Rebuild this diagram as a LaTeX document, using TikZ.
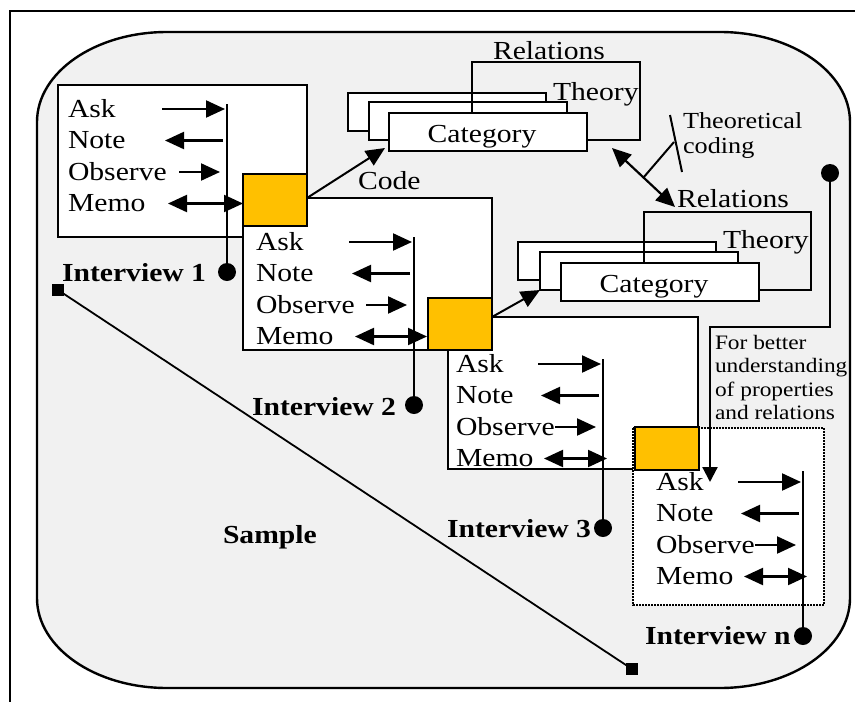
\documentclass[tikz,border=0pt]{standalone}
\usepackage{fontspec}
\setmainfont{Liberation Serif}[FakeStretch=1.14]
\usetikzlibrary{arrows.meta,calc}
\definecolor{panelgray}{HTML}{F1F1F1}
\definecolor{gold}{HTML}{FFC000}

% One interview panel: four activities, their arrows, the stem and its end dot.
% #1 name, #2 text x, #3 first baseline, #4 stem x, #5 memo tip x, #6 stem top, #7 dot y
\newcommand{\ivpanel}[7]{%
  \foreach \w [count=\i] in {Ask,Note,Observe,Memo}
    \node[word] (#1-w\i) at (#2,{#3+(\i-1)*31.5}) {\w};
  \coordinate (#1-a0) at ({#4-65},{#3-8});
  \coordinate (#1-a1) at ({#4-2},{#3-8});
  \coordinate (#1-n0) at ({#4-4},{#3+23.5});
  \coordinate (#1-n1) at ({#4-62},{#3+23.5});
  \coordinate (#1-o0) at ({#4-48},{#3+55});
  \coordinate (#1-o1) at ({#4-7},{#3+55});
  \coordinate (#1-m0) at ({#4-59},{#3+86.5});
  \coordinate (#1-m1) at (#5,{#3+86.5});
  \coordinate (#1-top) at (#4,#6);
  \node[dot] (#1-dot) at (#4,#7) {};
  \draw[stroke] (#1-top) -- (#1-dot.center);
  \draw[stroke,tip] (#1-a0) -- (#1-a1);
  \draw[stroke,tip] (#1-n0) -- (#1-n1);
  \draw[stroke,tip] (#1-o0) -- (#1-o1);
  \draw[stroke,twotip] (#1-m0) -- (#1-m1);
}

\begin{document}
\begin{tikzpicture}[x=1pt,y=-1pt,
  every node/.style={inner sep=0pt, outer sep=0pt},
  tip/.style={-{Triangle[length=19pt,width=17pt]}},
  twotip/.style={{Triangle[length=19pt,width=17pt]}-{Triangle[length=19pt,width=17pt]}},
  stroke/.style={line width=2.2pt},
  panel/.style={draw, fill=white, line width=2.2pt, anchor=north west},
  memo/.style={draw, fill=gold, line width=2.2pt, anchor=north west},
  card/.style={draw, fill=white, line width=2.2pt, anchor=north west,
    minimum width=198pt, minimum height=38pt},
  dot/.style={circle, fill=black, minimum size=18pt},
  word/.style={font=\fontsize{26}{30}\selectfont, anchor=base west},
  tag/.style={font=\bfseries\fontsize{26}{30}\selectfont, anchor=base west},
  note/.style={font=\fontsize{23}{26}\selectfont, anchor=base west},
  small/.style={font=\fontsize{20.5}{23}\selectfont, anchor=base west},
]
\useasboundingbox (0,0) rectangle (855,702);

% page frame
\draw[line width=1.8pt] (10,702) -- (10,11) -- (855,11);

% rounded sample area
\draw[line width=2.4pt, fill=panelgray]
  (167,32) -- (720,32) .. controls (791.8,32) and (850,72.3) .. (850,122)
  -- (850,598) .. controls (850,647.7) and (791.8,688) .. (720,688)
  -- (167,688) .. controls (95.2,688) and (37,647.7) .. (37,598)
  -- (37,122) .. controls (37,72.3) and (95.2,32) .. (167,32) -- cycle;

% interview panels
\node[panel, minimum width=249pt, minimum height=152pt] (box1) at (58,85) {};
\node[panel, minimum width=249pt, minimum height=152pt] (box2) at (243,198) {};
\node[panel, minimum width=250pt, minimum height=152pt] (box3) at (448,317) {};
\node[panel, draw=none, minimum width=191pt, minimum height=177pt] (boxn) at (633,428) {};
\draw[line width=1.6pt, dash pattern=on 1.6pt off 1.4pt] (boxn.north west) rectangle (boxn.south east);

% memo squares
\node[memo, minimum width=64pt, minimum height=52pt] (sq1) at (243,174) {};
\node[memo, minimum width=64pt, minimum height=52pt] (sq2) at (428,298) {};
\node[memo, minimum width=64pt, minimum height=43pt] (sqn) at (635,427) {};

% upper category stack
\node[card] (cat1a) at (348,93) {};
\node[card] (cat1b) at (369,102) {};
\draw[stroke] ($(cat1b.north west)+(103,11)$) coordinate (br1)
  -- ++(0,-51) -| ($(cat1b.south east)+(73,0)$) -- ++(-53,0);
\node[card] (cat1c) at (389,113) {};
\node[word, anchor=base] (cat1t) at ($(cat1c.center)+(-6,10)$) {Category};
\node[word] (rel1) at (493,59) {Relations};
\node[word] (thy1) at (553,100) {Theory};

% lower category stack
\node[card] (cat2a) at (518,242) {};
\node[card] (cat2b) at (540,252) {};
\draw[stroke] ($(cat2b.north west)+(104,11)$) coordinate (br2)
  -- ++(0,-51) -| ($(cat2b.south east)+(73,0)$) -- ++(-53,0);
\node[card] (cat2c) at (561,263) {};
\node[word, anchor=base] (cat2t) at ($(cat2c.center)+(-6,10)$) {Category};
\node[word] (rel2) at (677,207) {Relations};
\node[word] (thy2) at (723,248) {Theory};

% coding arrows
\coordinate (code-tip) at ($(cat1c.south west)+(-4,-3)$);
\draw[line width=2pt, tip] (sq1.east |- box2.north) -- (code-tip);
\node[word] (code) at (358,189) {Code};
\draw[line width=2pt, tip] (sq2.east |- box3.north) -- (cat2b.south west);

% theoretical coding
\coordinate (tc-a) at (612,148);
\coordinate (tc-b) at (675,207);
\coordinate (tc-k) at (674,142);
\coordinate (tc-u) at (670,115);
\coordinate (tc-v) at (682,172);
\draw[stroke, twotip] (tc-a) -- (tc-b);
\draw[line width=2pt] ($(tc-a)!0.5!(tc-b)$) -- (tc-k);
\draw[line width=2pt] (tc-u) -- (tc-v);
\node[note] (tc1) at (683,128) {Theoretical};
\node[note] (tc2) at (683,153) {coding};

% feedback to the next interview
\node[dot] (fb-dot) at (830,173) {};
\coordinate (fb-bend) at (710,327);
\coordinate (fb-end) at (710,482);
\draw[stroke, -{Triangle[length=15pt,width=15pt]}] (fb-dot.center) |- (fb-bend) -- (fb-end);
\node[small] (fb1) at (715,349) {For better};
\node[small] (fb2) at (715,372.5) {understanding};
\node[small] (fb3) at (715,396) {of properties};
\node[small] (fb4) at (715,419) {and relations};

% interview contents
\ivpanel{p1}{68}{117}{227}{243}{104}{272}
\ivpanel{p2}{256}{250}{414}{427}{237}{405}
\ivpanel{p3}{456}{372}{603}{607}{359}{528}
\ivpanel{pn}{656}{490}{803}{807}{471}{636}

\node[tag] (iv1) at (62,281) {Interview 1};
\node[tag] (iv2) at (252,415) {Interview 2};
\node[tag] (iv3) at (447,537) {Interview 3};
\node[tag] (ivn) at (645,644) {Interview n};

% sample line
\node[fill=black, minimum size=12pt] (smp-a) at (58,290) {};
\node[fill=black, minimum size=12pt] (smp-b) at (632,669) {};
\draw[line width=1.8pt] (smp-a.center) -- (smp-b.center);
\node[tag] (smp) at (223,543) {Sample};
\end{tikzpicture}
\end{document}
